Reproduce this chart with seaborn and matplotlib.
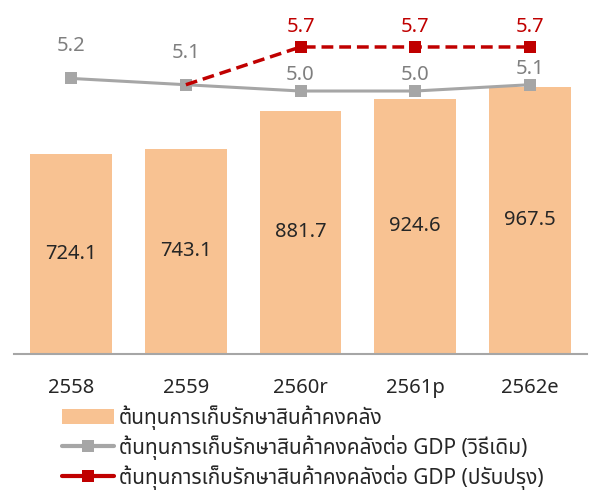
import matplotlib
matplotlib.use("Agg")
import matplotlib.pyplot as plt
from matplotlib.patches import Patch
from matplotlib.lines import Line2D
import numpy as np
import pandas as pd
import seaborn as sns

# Data
years = ["2558", "2559", "2560r", "2561p", "2562e"]
storage_cost = [724.1, 743.1, 881.7, 924.6, 967.5]
ratio_old = [5.2, 5.1, 5.0, 5.0, 5.1]
ratio_new = [None, 5.1, 5.7, 5.7, 5.7]

label_bar = "ต้นทุนการเก็บรักษาสินค้าคงคลัง"
label_old = "ต้นทุนการเก็บรักษาสินค้าคงคลังต่อ GDP (วิธีเดิม)"
label_new = "ต้นทุนการเก็บรักษาสินค้าคงคลังต่อ GDP (ปรับปรุง)"

BAR = "#F8C292"
GREY = "#A6A6A6"
GREY_TXT = "#7F7F7F"
RED = "#C00000"
DARK = "#262626"

sns.set_theme(style="white")
plt.rcParams["font.family"] = ["Noto Sans Thai", "Noto Sans", "DejaVu Sans"]

fig = plt.figure(figsize=(5.92, 4.92), dpi=100)
W, H = 592, 492
left, right, top, bottom = 14, 587, 0, 354
ax = fig.add_axes([left / W, 1 - bottom / H, (right - left) / W, (bottom - top) / H])

df = pd.DataFrame({"year": years, "cost": storage_cost})
sns.barplot(data=df, x="year", y="cost", color=BAR, saturation=1, width=0.715,
            ax=ax, edgecolor="none")
ax.set_xlim(-0.5, len(years) - 0.5)
ax.set_ylim(0, 1282)
ax.set_xlabel("")
ax.set_ylabel("")
ax.set_yticks([])
for s in ["top", "right", "left"]:
    ax.spines[s].set_visible(False)
ax.spines["bottom"].set_color(GREY)
ax.spines["bottom"].set_linewidth(1.5)
ax.tick_params(axis="x", which="major", length=0, pad=17, labelsize=14.5, labelcolor=DARK)
ax.set_xticks(np.arange(-0.5, len(years), 1.0), minor=True)
ax.tick_params(axis="x", which="minor", length=6, width=1.5, color=GREY, direction="out")

for p, v in zip(ax.patches, storage_cost):
    ax.text(p.get_x() + p.get_width() / 2, v / 2, f"{v:.1f}", ha="center", va="center",
            fontsize=14.5, color=DARK)

# Ratio to GDP on the secondary axis
ax2 = ax.twinx()
ax2.set_ylim(0.819, 6.447)
ax2.set_yticks([])
for s in ax2.spines.values():
    s.set_visible(False)

x = np.arange(len(years))
sns.lineplot(x=x, y=ratio_old, ax=ax2, color=GREY, lw=2.2, marker="s", markersize=8,
             markeredgewidth=0, zorder=3)
xn = [i for i, v in enumerate(ratio_new) if v is not None]
yn = [v for v in ratio_new if v is not None]
sns.lineplot(x=xn, y=yn, ax=ax2, color=RED, lw=2.5, linestyle=(0, (3.4, 1.7)),
             marker="s", markersize=8, markeredgewidth=0, markevery=list(range(1, len(xn))),
             zorder=4)
ax2.set_xlim(-0.5, len(years) - 0.5)

old_offsets = [19.4, 19.4, 7.6, 7.6, 7.6]
for i, v in enumerate(ratio_old):
    ax2.annotate(f"{v:.1f}", (i, v), xytext=(0, old_offsets[i]), textcoords="offset points",
                 ha="center", va="baseline", fontsize=14.5, color=GREY_TXT)
for i, v in zip(xn[1:], yn[1:]):
    ax2.annotate(f"{v:.1f}", (i, v), xytext=(0, 10.8), textcoords="offset points",
                 ha="center", va="baseline", fontsize=14.5, color=RED, fontweight="semibold")

handles = [
    Patch(facecolor=BAR, edgecolor="none"),
    Line2D([], [], color=GREY, lw=3, marker="s", markersize=8, markeredgewidth=0),
    Line2D([], [], color=RED, lw=3, marker="s", markersize=8, markeredgewidth=0),
]
fig.legend(handles, [label_bar, label_old, label_new], loc="upper left",
           bbox_to_anchor=(62 / W, 1 - 405 / H), frameon=False, fontsize=15.0,
           handlelength=2.5, handleheight=0.75, handletextpad=0.24, labelspacing=0.24,
           borderaxespad=0, borderpad=0, labelcolor=DARK)

fig.savefig("out.png", dpi=100)
